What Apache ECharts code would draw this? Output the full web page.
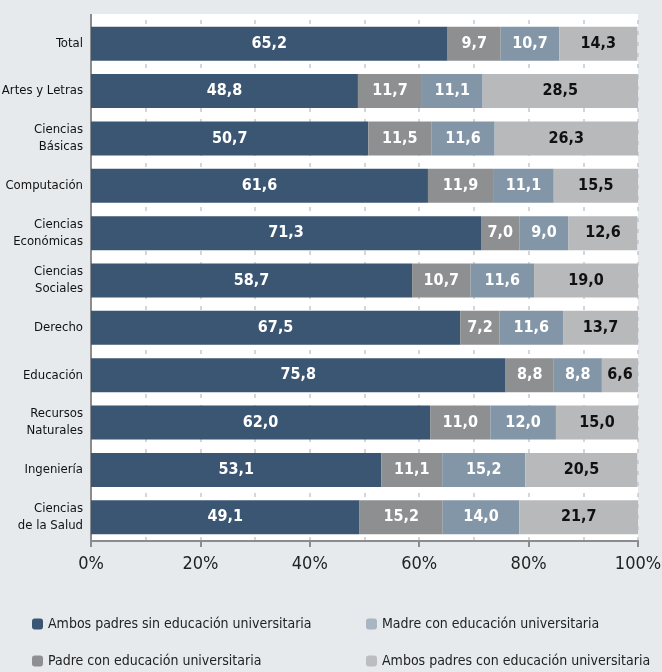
<!DOCTYPE html>
<html>
<head>
<meta charset="utf-8">
<script src="https://cdn.jsdelivr.net/npm/echarts@6/dist/echarts.min.js"></script>
<style>
html,body{margin:0;padding:0;background:#e7eaed;}
#chart{width:662px;height:672px;}
</style>
</head>
<body>
<div id="chart"></div>
<script>
// categorias (de arriba hacia abajo)
var categorias = ['Total', 'Artes y Letras', 'Ciencias\nBásicas', 'Computación', 'Ciencias\nEconómicas',
	'Ciencias\nSociales', 'Derecho', 'Educación', 'Recursos\nNaturales', 'Ingeniería', 'Ciencias\nde la Salud'];
var nombres = ['Ambos padres sin educación universitaria', 'Padre con educación universitaria',
	'Madre con educación universitaria', 'Ambos padres con educación universitaria'];
var ambosSin = [65.2, 48.8, 50.7, 61.6, 71.3, 58.7, 67.5, 75.8, 62.0, 53.1, 49.1];
var padre    = [9.7, 11.7, 11.5, 11.9, 7.0, 10.7, 7.2, 8.8, 11.0, 11.1, 15.2];
var madre    = [10.7, 11.1, 11.6, 11.1, 9.0, 11.6, 11.6, 8.8, 12.0, 15.2, 14.0];
var ambosCon = [14.3, 28.5, 26.3, 15.5, 12.6, 19.0, 13.7, 6.6, 15.0, 20.5, 21.7];
var colores = ['#3a5673', '#8e8f91', '#8396a8', '#b8b9bb'];
var colorTexto = ['#ffffff', '#ffffff', '#ffffff', '#111111'];
var marcadores = ['#3a5673', '#8e8f91', '#a9b5c2', '#bcbdbf'];

var fuente = "'Liberation Sans Narrow', 'DejaVu Sans Condensed', sans-serif";
var valores = [ambosSin, padre, madre, ambosCon];

var series = [];
for (var i = 0; i < valores.length; i++) {
	series.push({
		name: nombres[i],
		type: 'bar',
		stack: 'total',
		barWidth: 34,
		xAxisIndex: 0,
		data: valores[i],
		itemStyle: { color: colores[i] },
		label: {
			show: true,
			position: 'inside',
			color: colorTexto[i],
			fontFamily: fuente,
			fontWeight: 'bold',
			fontSize: 16,
			formatter: function (p) {
				return p.value.toFixed(1).replace('.', ',');
			}
		}
	});
}

// una leyenda por item para colocarlas en dos columnas
var posLeyenda = [[27, 612], [27, 649], [361, 612], [361, 649]];
var leyendas = [];
for (var j = 0; j < nombres.length; j++) {
	leyendas.push({
		left: posLeyenda[j][0],
		top: posLeyenda[j][1],
		itemWidth: 11,
		itemHeight: 11,
		itemGap: 6,
		data: [{ name: nombres[j], itemStyle: { color: marcadores[j] } }],
		textStyle: { fontFamily: fuente, fontSize: 14, color: '#222' }
	});
}

var myChart = echarts.init(document.getElementById('chart'));
var option = {
	backgroundColor: '#e7eaed',
	animation: false,
	// franja blanca sobre el area de barras (el marco empieza un poco mas arriba)
	graphic: [
		{ type: 'rect', left: 91, top: 14, shape: { width: 547, height: 7 }, style: { fill: '#ffffff' }, z: -1 },
		{ type: 'line', shape: { x1: 91, y1: 14, x2: 91, y2: 21 }, style: { stroke: '#8a8c8f', lineWidth: 2 } }
	],
	grid: {
		left: 91,
		right: 24,
		top: 20,
		bottom: 131,
		containLabel: false,
		outerBoundsMode: 'none',
		show: true,
		backgroundColor: '#ffffff',
		borderWidth: 0
	},
	legend: leyendas,
	xAxis: [
		{
			type: 'value',
			min: 0,
			max: 100,
			interval: 20,
			axisLine: { show: true, lineStyle: { color: '#8a8c8f', width: 2 } },
			axisTick: { show: true, length: 6, lineStyle: { color: '#8a8c8f', width: 2 } },
			splitLine: { show: false },
			axisLabel: {
				formatter: '{value}%',
				fontFamily: fuente,
				fontSize: 18,
				color: '#222',
				margin: 14
			}
		},
		{
			type: 'value',
			min: 0,
			max: 100,
			interval: 10,
			position: 'bottom',
			axisLine: { show: false },
			axisTick: { show: false },
			axisLabel: { show: false },
			splitLine: { show: true, lineStyle: { color: '#c5cad1', type: [4, 7], width: 1.5 } }
		}
	],
	yAxis: {
		type: 'category',
		inverse: true,
		data: categorias,
		axisLine: { show: true, lineStyle: { color: '#8a8c8f', width: 2 } },
		axisTick: { show: false },
		axisLabel: {
			fontFamily: fuente,
			fontSize: 13,
			color: '#111',
			lineHeight: 17,
			margin: 8
		}
	},
	series: series
};
myChart.setOption(option);
</script>
</body>
</html>
